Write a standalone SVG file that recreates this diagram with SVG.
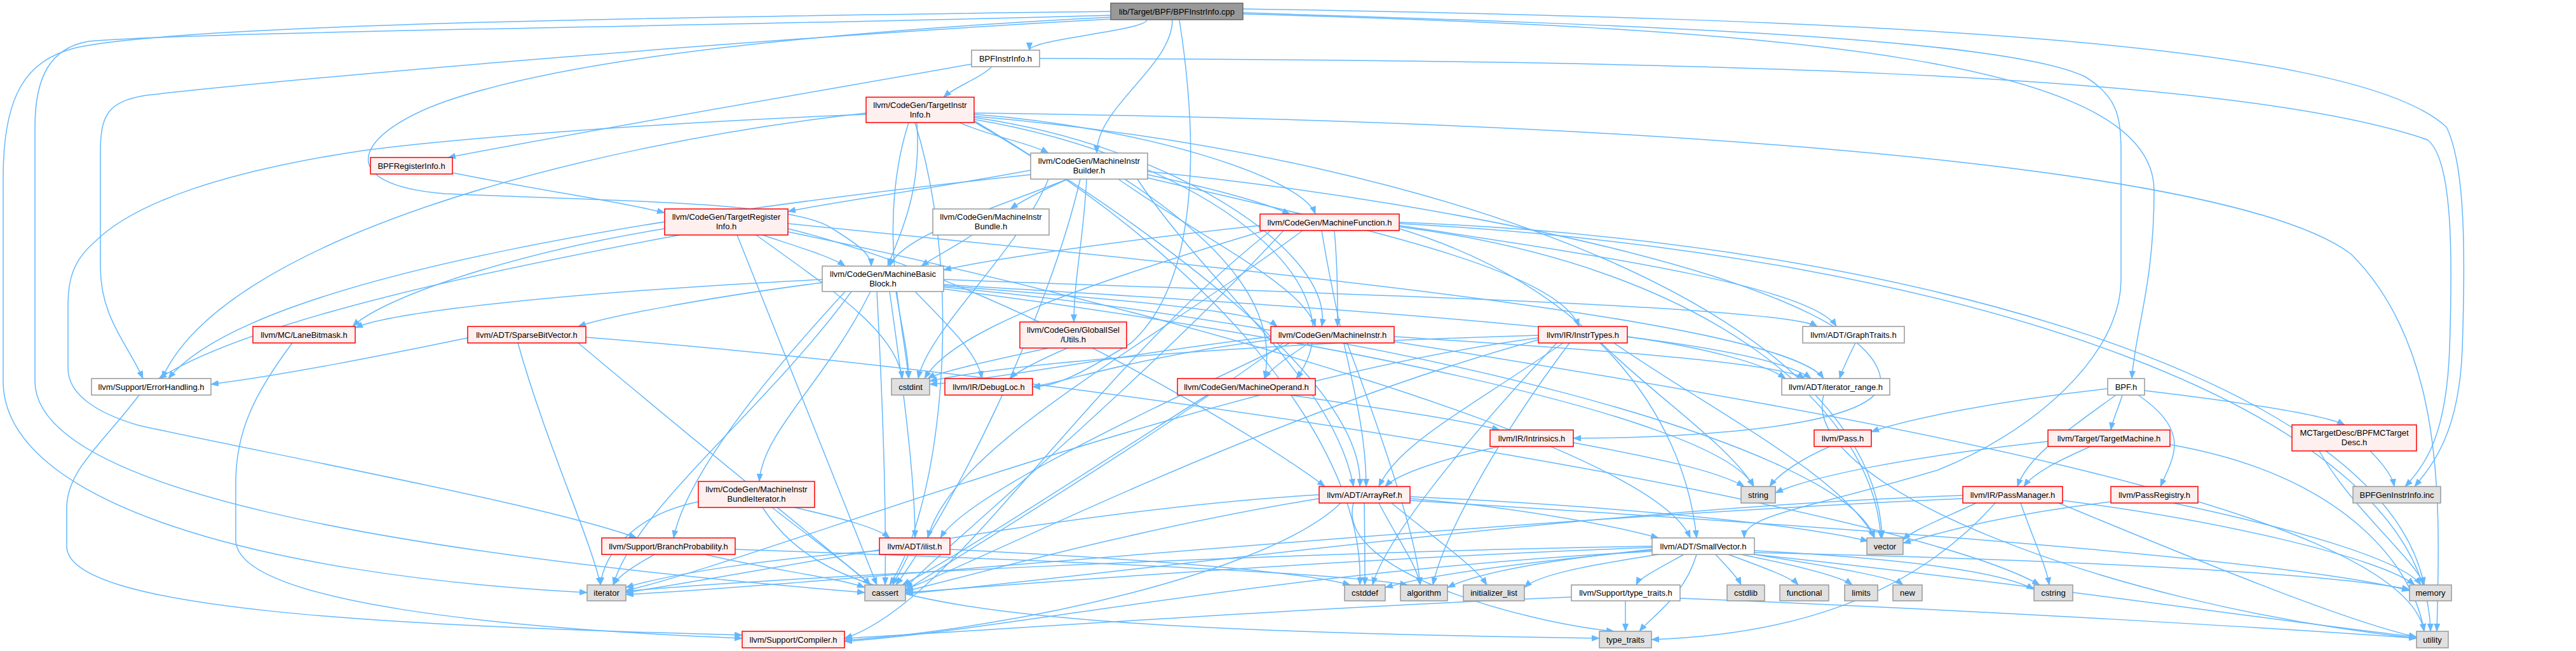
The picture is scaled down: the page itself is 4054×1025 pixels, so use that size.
<svg xmlns="http://www.w3.org/2000/svg" width="4054" height="1025" viewBox="0 0 4054 1025">
<style>
rect{stroke-width:1.5}
.r rect{fill:#fff0f0;stroke:#ff0000}
.w rect{fill:#ffffff;stroke:#999999}
.g rect{fill:#e0e0e0;stroke:#999999}
.m rect{fill:#999999;stroke:#666666}
text{font-family:"Liberation Sans",Arial,Helvetica,sans-serif;font-size:13px;fill:#000000;text-anchor:middle}
#edges path{fill:none;stroke:#63b8ff;stroke-width:1.5;marker-end:url(#ah)}
</style>
<defs>
<marker id="ah" viewBox="0 0 13 10" refX="12" refY="5" markerWidth="13" markerHeight="10" markerUnits="userSpaceOnUse" orient="auto"><path d="M0,0L13,5L0,10z" fill="#63b8ff"/></marker>
</defs>
<rect x="0" y="0" width="4054" height="1025" fill="#ffffff" stroke="none"/>
<g id="edges">
<path d="M1805,31C1805,48 1620,62 1620,79"/>
<path d="M1845,31C1845,104 1726,168 1726,241"/>
<path d="M1856,31C1890,250 1880,450 1780,540C1700,590 1660,609 1625,609"/>
<path d="M1748,27C1300,50 900,90 700,160C560,210 520,290 700,305C1000,318 1250,318 1310,360C1350,385 1371,400 1371,419"/>
<path d="M1956,20C2600,40 3150,60 3280,120C3330,150 3338,180 3338,240L3338,440C3338,560 3200,680 3050,740C2850,800 2745,810 2745,847"/>
<path d="M1956,22C2800,45 3390,90 3390,300C3390,450 3360,520 3355,596"/>
<path d="M1748,30C1200,60 500,120 230,150C170,160 158,180 158,240L158,420C158,500 200,540 225,596"/>
<path d="M1748,24C1200,40 300,50 140,65C80,75 55,120 55,200L55,600C55,770 600,870 1361,933"/>
<path d="M1748,18C1200,25 300,35 120,75C40,95 5,150 5,280L5,600C5,790 400,905 924,933"/>
<path d="M1956,14C2900,30 3700,60 3850,200C3880,260 3880,400 3875,550C3870,680 3830,730 3800,766"/>
<path d="M1529,101C1250,150 900,210 705,248"/>
<path d="M1561,105C1540,125 1505,135 1485,153"/>
<path d="M1636,92C2600,95 3500,110 3820,220C3860,250 3860,400 3855,550C3850,680 3820,730 3785,766"/>
<path d="M712,272C850,300 980,318 1046,335"/>
<path d="M1510,193C1560,215 1620,225 1650,241"/>
<path d="M1443,193C1450,300 1420,360 1397,419"/>
<path d="M1533,180C1800,200 2050,280 2070,337"/>
<path d="M1533,185C1850,230 2100,400 2080,514"/>
<path d="M1533,188C1900,250 2150,450 2040,596"/>
<path d="M1533,190C1800,350 2150,600 2140,766"/>
<path d="M1363,180C1000,195 700,220 572,237C350,270 211,320 150,380C115,410 107,440 107,480L107,580C107,620 150,650 219,670C450,720 870,798 1002,847"/>
<path d="M1363,178C900,230 350,380 255,596"/>
<path d="M1440,193C1520,450 1480,800 1400,921"/>
<path d="M1533,192C1900,400 2150,700 2140,921"/>
<path d="M1430,193C1380,350 1420,500 1430,596"/>
<path d="M1533,178C2500,190 3500,250 3700,400C3850,550 3840,800 3835,994"/>
<path d="M1533,183C2300,250 2950,500 2962,847"/>
<path d="M1790,282C1900,450 2100,600 2130,766"/>
<path d="M1710,282C1705,380 1690,440 1690,507"/>
<path d="M1680,282C1560,330 1420,370 1400,419"/>
<path d="M1806,275C1900,295 1980,315 2030,337"/>
<path d="M1760,282C1900,380 2050,450 2070,514"/>
<path d="M1680,282C1640,300 1610,315 1590,329"/>
<path d="M1770,282C1950,400 2010,500 1990,596"/>
<path d="M1622,268C1450,300 1300,320 1240,333"/>
<path d="M1806,280C2100,350 2450,420 2485,514"/>
<path d="M1806,270C2300,320 2950,450 2960,600C2960,680 2600,690 2476,690"/>
<path d="M1622,275C1100,330 400,430 265,596"/>
<path d="M1700,282C1650,500 1500,800 1410,921"/>
<path d="M1650,282C1600,400 1460,520 1445,596"/>
<path d="M1240,360C1600,450 2000,700 2085,766"/>
<path d="M1240,365C1800,480 2600,700 2660,847"/>
<path d="M1240,352C1900,420 2800,500 2870,596"/>
<path d="M1200,370C1260,390 1310,405 1330,419"/>
<path d="M1046,360C800,400 600,470 555,514"/>
<path d="M1070,370C800,420 400,500 250,596"/>
<path d="M1160,370C1250,600 1330,800 1380,921"/>
<path d="M1190,370C1300,450 1410,520 1420,596"/>
<path d="M1530,370C1500,390 1470,405 1450,419"/>
<path d="M2080,363C2110,550 2150,650 2150,766"/>
<path d="M2202,355C2500,400 2850,450 2890,514"/>
<path d="M2202,360C2500,450 2650,650 2670,847"/>
<path d="M2050,363C1800,550 1500,700 1460,847"/>
<path d="M1983,355C1750,380 1550,410 1485,425"/>
<path d="M2100,363C2105,420 2105,470 2105,514"/>
<path d="M2000,363C1700,600 1500,950 1329,1005"/>
<path d="M2020,363C1800,600 1500,850 1425,925"/>
<path d="M1990,363C1700,450 1500,520 1455,596"/>
<path d="M2202,350C3000,380 3750,600 3815,921"/>
<path d="M2202,352C3100,400 3820,650 3825,994"/>
<path d="M2202,357C2700,420 2950,650 2960,847"/>
<path d="M1485,440C2000,460 2800,480 2860,514"/>
<path d="M1294,445C1100,470 950,500 910,514"/>
<path d="M1400,459C1420,600 1440,750 1440,847"/>
<path d="M1485,448C2000,480 2750,520 2850,596"/>
<path d="M1485,450C1750,470 1980,490 2010,514"/>
<path d="M1370,459C1300,600 1200,680 1195,758"/>
<path d="M1440,459C1500,520 1540,560 1545,596"/>
<path d="M1294,440C900,460 620,490 559,516"/>
<path d="M1330,459C1200,600 1080,750 1060,847"/>
<path d="M1380,459C1390,650 1395,800 1393,921"/>
<path d="M1410,459C1420,520 1430,560 1430,596"/>
<path d="M1340,459C1200,650 1000,800 965,921"/>
<path d="M1485,455C2000,520 2700,650 2760,766"/>
<path d="M1485,452C2200,520 2900,700 2950,847"/>
<path d="M1650,548C1550,570 1480,585 1460,596"/>
<path d="M1680,548C1640,565 1600,585 1590,596"/>
<path d="M2030,540C1800,650 1520,780 1480,847"/>
<path d="M2194,530C2500,550 2800,570 2840,596"/>
<path d="M2060,540C2030,560 2000,580 1990,596"/>
<path d="M2000,535C1800,560 1680,600 1625,609"/>
<path d="M2120,540C2180,700 2230,850 2235,921"/>
<path d="M2020,540C1800,700 1500,880 1425,930"/>
<path d="M2000,530C1750,560 1550,600 1463,605"/>
<path d="M2194,538C2900,650 3780,800 3815,994"/>
<path d="M2460,540C2300,650 2200,700 2170,766"/>
<path d="M2561,530C2700,550 2780,575 2810,596"/>
<path d="M2470,540C2350,700 2270,850 2255,921"/>
<path d="M2421,535C2000,650 1550,880 1425,928"/>
<path d="M2450,540C2300,700 2180,850 2160,921"/>
<path d="M2421,528C2000,540 1600,570 1463,600"/>
<path d="M2421,532C1900,600 1200,880 985,930"/>
<path d="M2520,540C2600,620 2720,700 2760,766"/>
<path d="M2540,540C2700,650 2900,750 2950,847"/>
<path d="M2920,540C2910,560 2900,580 2895,596"/>
<path d="M460,540C400,620 371,680 371,760L371,850C371,950 800,990 1168,1005"/>
<path d="M736,532C600,560 450,590 332,605"/>
<path d="M910,540C1100,700 1300,860 1370,921"/>
<path d="M922,531C1800,600 3000,800 3210,921"/>
<path d="M815,540C860,700 930,850 945,921"/>
<path d="M219,622C160,700 105,740 105,800L105,860C105,960 600,985 1168,1000"/>
<path d="M2030,622C2150,640 2300,660 2360,677"/>
<path d="M1900,622C1700,750 1500,880 1420,921"/>
<path d="M2870,622C2830,760 3300,950 3803,1005"/>
<path d="M3375,615C3500,630 3650,650 3690,669"/>
<path d="M3330,622C3250,680 3190,720 3175,766"/>
<path d="M3317,612C3150,630 3000,660 2945,680"/>
<path d="M3365,622C3450,680 3420,720 3400,766"/>
<path d="M3340,622C3335,640 3325,660 3322,677"/>
<path d="M2360,703C2280,720 2200,745 2180,766"/>
<path d="M2476,697C2600,720 2700,740 2745,766"/>
<path d="M2880,703C2840,720 2800,745 2785,766"/>
<path d="M3290,703C3240,725 3200,745 3185,766"/>
<path d="M3223,695C3000,720 2850,750 2794,776"/>
<path d="M3415,700C3700,750 3800,900 3815,994"/>
<path d="M3730,710C3750,730 3765,750 3768,766"/>
<path d="M3650,710C3700,800 3800,880 3815,921"/>
<path d="M1250,799C1320,815 1380,830 1400,847"/>
<path d="M1215,799C1280,850 1350,900 1370,921"/>
<path d="M1099,790C1000,810 950,870 945,921"/>
<path d="M1200,799C1300,950 1500,990 2517,1005"/>
<path d="M2219,785C2400,800 2550,830 2610,847"/>
<path d="M2110,792C2000,900 1600,990 1329,1008"/>
<path d="M2170,792C2200,850 2230,890 2235,921"/>
<path d="M2076,785C1800,830 1550,900 1425,931"/>
<path d="M2147,792C2148,850 2148,890 2148,921"/>
<path d="M2190,792C2260,850 2320,890 2340,921"/>
<path d="M2076,779C1700,800 1200,900 985,933"/>
<path d="M2219,788C2900,830 3600,880 3792,930"/>
<path d="M2130,792C2100,900 2400,980 2540,994"/>
<path d="M2219,782C2600,800 2850,830 2940,852"/>
<path d="M3089,780C2500,800 1800,900 1425,935"/>
<path d="M3180,792C3200,850 3220,890 3225,921"/>
<path d="M3089,785C2300,820 1300,920 985,936"/>
<path d="M3246,788C3500,820 3750,880 3800,921"/>
<path d="M3140,792C3000,950 2800,1000 2599,1007"/>
<path d="M3240,792C3500,900 3700,980 3803,1003"/>
<path d="M3110,792C3050,820 3010,835 2995,850"/>
<path d="M3420,792C3600,830 3780,880 3810,921"/>
<path d="M3322,790C3150,810 3050,840 2995,855"/>
<path d="M1157,865C1600,880 2100,900 2215,921"/>
<path d="M1110,873C1200,895 1320,910 1361,925"/>
<path d="M1030,873C1000,890 975,905 965,921"/>
<path d="M1430,873C1420,895 1410,910 1405,921"/>
<path d="M1495,865C1800,880 2050,900 2125,921"/>
<path d="M1384,867C1200,880 1050,905 985,925"/>
<path d="M2600,868C2000,900 1600,990 1329,1010"/>
<path d="M2650,873C2610,895 2580,910 2575,921"/>
<path d="M2600,865C2450,880 2330,900 2278,925"/>
<path d="M2600,862C2100,880 1600,920 1425,933"/>
<path d="M2600,866C2400,885 2250,905 2180,925"/>
<path d="M2700,873C2720,895 2735,910 2740,921"/>
<path d="M2761,867C3000,880 3150,900 3201,928"/>
<path d="M2720,873C2780,895 2820,910 2830,921"/>
<path d="M2610,873C2500,890 2420,905 2399,925"/>
<path d="M2600,860C2000,870 1200,910 985,931"/>
<path d="M2740,873C2850,895 2900,910 2915,921"/>
<path d="M2761,870C3200,880 3650,900 3792,928"/>
<path d="M2761,873C2900,895 2980,910 2995,921"/>
<path d="M2670,873C2650,940 2600,970 2580,994"/>
<path d="M2761,873C3200,920 3600,980 3803,1003"/>
<path d="M2473,940C2000,960 1600,990 1329,1005"/>
<path d="M2558,946C2558,965 2558,980 2558,994"/>
<path d="M2644,942C3100,960 3600,990 3803,1005"/>
</g>
<g id="n1" class="m"><rect x="1748" y="5" width="208" height="26"/><text x="1852" y="23">lib/Target/BPF/BPFInstrInfo.cpp</text></g>
<g id="n2" class="w"><rect x="1529" y="79" width="107" height="26"/><text x="1582.5" y="97">BPFInstrInfo.h</text></g>
<g id="n3" class="r"><rect x="1363" y="153" width="170" height="40"/><text x="1448" y="170">llvm/CodeGen/TargetInstr</text><text x="1448" y="185">Info.h</text></g>
<g id="n4" class="r"><rect x="583" y="248" width="129" height="26"/><text x="647.5" y="266">BPFRegisterInfo.h</text></g>
<g id="n5" class="w"><rect x="1622" y="241" width="184" height="41"/><text x="1714" y="258">llvm/CodeGen/MachineInstr</text><text x="1714" y="273">Builder.h</text></g>
<g id="n6" class="r"><rect x="1046" y="329" width="194" height="41"/><text x="1143" y="346">llvm/CodeGen/TargetRegister</text><text x="1143" y="361">Info.h</text></g>
<g id="n7" class="w"><rect x="1468" y="329" width="183" height="41"/><text x="1559.5" y="346">llvm/CodeGen/MachineInstr</text><text x="1559.5" y="361">Bundle.h</text></g>
<g id="n8" class="r"><rect x="1983" y="337" width="219" height="26"/><text x="2092.5" y="355">llvm/CodeGen/MachineFunction.h</text></g>
<g id="n9" class="w"><rect x="1294" y="419" width="191" height="40"/><text x="1389.5" y="436">llvm/CodeGen/MachineBasic</text><text x="1389.5" y="451">Block.h</text></g>
<g id="n10" class="r"><rect x="1605" y="507" width="168" height="41"/><text x="1689" y="524">llvm/CodeGen/GlobalISel</text><text x="1689" y="539">/Utils.h</text></g>
<g id="n11" class="r"><rect x="2000" y="514" width="194" height="26"/><text x="2097" y="532">llvm/CodeGen/MachineInstr.h</text></g>
<g id="n12" class="r"><rect x="2421" y="514" width="140" height="26"/><text x="2491" y="532">llvm/IR/InstrTypes.h</text></g>
<g id="n13" class="w"><rect x="2837" y="514" width="160" height="26"/><text x="2917" y="532">llvm/ADT/GraphTraits.h</text></g>
<g id="n14" class="r"><rect x="398" y="514" width="161" height="26"/><text x="478.5" y="532">llvm/MC/LaneBitmask.h</text></g>
<g id="n15" class="r"><rect x="736" y="514" width="186" height="26"/><text x="829" y="532">llvm/ADT/SparseBitVector.h</text></g>
<g id="n16" class="w"><rect x="144" y="596" width="188" height="26"/><text x="238" y="614">llvm/Support/ErrorHandling.h</text></g>
<g id="n17" class="g"><rect x="1403" y="596" width="60" height="26"/><text x="1433" y="614">cstdint</text></g>
<g id="n18" class="r"><rect x="1487" y="596" width="138" height="26"/><text x="1556" y="614">llvm/IR/DebugLoc.h</text></g>
<g id="n19" class="r"><rect x="1853" y="596" width="217" height="26"/><text x="1961.5" y="614">llvm/CodeGen/MachineOperand.h</text></g>
<g id="n20" class="w"><rect x="2804" y="596" width="170" height="26"/><text x="2889" y="614">llvm/ADT/iterator_range.h</text></g>
<g id="n21" class="w"><rect x="3317" y="596" width="58" height="26"/><text x="3346" y="614">BPF.h</text></g>
<g id="n22" class="r"><rect x="2345" y="677" width="131" height="26"/><text x="2410.5" y="695">llvm/IR/Intrinsics.h</text></g>
<g id="n23" class="r"><rect x="2855" y="677" width="90" height="26"/><text x="2900" y="695">llvm/Pass.h</text></g>
<g id="n24" class="r"><rect x="3223" y="677" width="192" height="26"/><text x="3319" y="695">llvm/Target/TargetMachine.h</text></g>
<g id="n25" class="r"><rect x="3607" y="669" width="196" height="41"/><text x="3705" y="686">MCTargetDesc/BPFMCTarget</text><text x="3705" y="701">Desc.h</text></g>
<g id="n26" class="r"><rect x="1099" y="758" width="183" height="41"/><text x="1190.5" y="775">llvm/CodeGen/MachineInstr</text><text x="1190.5" y="790">BundleIterator.h</text></g>
<g id="n27" class="r"><rect x="2076" y="766" width="143" height="26"/><text x="2147.5" y="784">llvm/ADT/ArrayRef.h</text></g>
<g id="n28" class="g"><rect x="2740" y="766" width="54" height="26"/><text x="2767" y="784">string</text></g>
<g id="n29" class="r"><rect x="3089" y="766" width="157" height="26"/><text x="3167.5" y="784">llvm/IR/PassManager.h</text></g>
<g id="n30" class="r"><rect x="3322" y="766" width="137" height="26"/><text x="3390.5" y="784">llvm/PassRegistry.h</text></g>
<g id="n31" class="g"><rect x="3703" y="766" width="138" height="26"/><text x="3772" y="784">BPFGenInstrInfo.inc</text></g>
<g id="n32" class="r"><rect x="947" y="847" width="210" height="26"/><text x="1052" y="865">llvm/Support/BranchProbability.h</text></g>
<g id="n33" class="r"><rect x="1384" y="847" width="111" height="26"/><text x="1439.5" y="865">llvm/ADT/ilist.h</text></g>
<g id="n34" class="w"><rect x="2600" y="847" width="161" height="26"/><text x="2680.5" y="865">llvm/ADT/SmallVector.h</text></g>
<g id="n35" class="g"><rect x="2938" y="847" width="57" height="26"/><text x="2966.5" y="865">vector</text></g>
<g id="n36" class="g"><rect x="924" y="921" width="61" height="25"/><text x="954.5" y="938">iterator</text></g>
<g id="n37" class="g"><rect x="1361" y="921" width="64" height="25"/><text x="1393" y="938">cassert</text></g>
<g id="n38" class="g"><rect x="2116" y="921" width="64" height="25"/><text x="2148" y="938">cstddef</text></g>
<g id="n39" class="g"><rect x="2204" y="921" width="74" height="25"/><text x="2241" y="938">algorithm</text></g>
<g id="n40" class="g"><rect x="2303" y="921" width="96" height="25"/><text x="2351" y="938">initializer_list</text></g>
<g id="n41" class="w"><rect x="2473" y="921" width="171" height="25"/><text x="2558.5" y="938">llvm/Support/type_traits.h</text></g>
<g id="n42" class="g"><rect x="2718" y="921" width="59" height="25"/><text x="2747.5" y="938">cstdlib</text></g>
<g id="n43" class="g"><rect x="2801" y="921" width="77" height="25"/><text x="2839.5" y="938">functional</text></g>
<g id="n44" class="g"><rect x="2903" y="921" width="52" height="25"/><text x="2929" y="938">limits</text></g>
<g id="n45" class="g"><rect x="2979" y="921" width="46" height="25"/><text x="3002" y="938">new</text></g>
<g id="n46" class="g"><rect x="3201" y="921" width="61" height="25"/><text x="3231.5" y="938">cstring</text></g>
<g id="n47" class="g"><rect x="3792" y="921" width="66" height="25"/><text x="3825" y="938">memory</text></g>
<g id="n48" class="r"><rect x="1168" y="994" width="161" height="26"/><text x="1248.5" y="1012">llvm/Support/Compiler.h</text></g>
<g id="n49" class="g"><rect x="2517" y="994" width="82" height="26"/><text x="2558" y="1012">type_traits</text></g>
<g id="n50" class="g"><rect x="3803" y="994" width="50" height="26"/><text x="3828" y="1012">utility</text></g>
</svg>
